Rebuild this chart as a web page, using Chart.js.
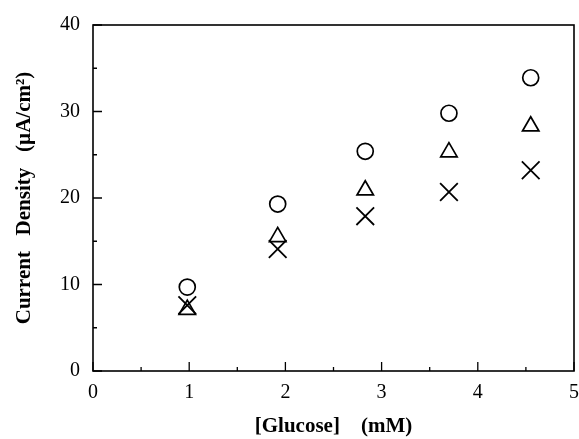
<!DOCTYPE html>
<html>
<head>
<meta charset="utf-8">
<script src="https://cdn.jsdelivr.net/npm/chart.js@4.4.1/dist/chart.umd.min.js"></script>
<style>
  html, body { margin: 0; padding: 0; background: #fff; }
  #clip { width: 579px; height: 439px; overflow: hidden; }
  #wrap { width: 589px; height: 439px; }
</style>
</head>
<body>
<div id="clip"><div id="wrap"><canvas id="myChart"></canvas></div></div>
<script>
// glucose concentration (mM)
const glucose = [0.98, 1.92, 2.83, 3.70, 4.55];
// current density (uA/cm2) for the three electrodes
const circleSeries = [9.7, 19.3, 25.4, 29.8, 33.9];
const triangleSeries = [7.1, 15.5, 20.9, 25.3, 28.3];
const crossSeries = [7.6, 14.1, 17.9, 20.7, 23.2];
const xTicks = [0, 1, 2, 3, 4, 5];
const yTicks = [0, 10, 20, 30, 40];

const serif = "'Liberation Serif', 'Times New Roman', serif";

function toPoints(ys) {
  return glucose.map((g, i) => ({ x: g, y: ys[i] }));
}

// box round the plot and inward tick marks
const frameTicks = {
  id: "frameTicks",
  afterDraw(chart) {
    const ctx = chart.ctx;
    const a = chart.chartArea;
    const xs = chart.scales.x;
    const ys = chart.scales.y;
    ctx.save();
    ctx.strokeStyle = "#000";
    ctx.lineWidth = 1.6;
    ctx.strokeRect(a.left, a.top, a.right - a.left, a.bottom - a.top);
    ctx.lineWidth = 1.3;
    ctx.beginPath();
    for (let v = 0; v <= 5; v += 0.5) {
      const px = xs.getPixelForValue(v);
      const len = v % 1 === 0 ? 9 : 4;
      ctx.moveTo(px, a.bottom);
      ctx.lineTo(px, a.bottom - len);
    }
    for (let v = 0; v <= 40; v += 5) {
      const py = ys.getPixelForValue(v);
      const len = v % 10 === 0 ? 9 : 4;
      ctx.moveTo(a.left, py);
      ctx.lineTo(a.left + len, py);
    }
    ctx.stroke();
    ctx.restore();
  },
};

const ctx = document.getElementById("myChart");
let chart = new Chart(ctx, {
  type: "scatter",
  data: {
    datasets: [
      {
        data: toPoints(circleSeries),
        pointStyle: "circle",
        pointRadius: 8,
        borderColor: "#000",
        backgroundColor: "rgba(0,0,0,0)",
        borderWidth: 1.7,
      },
      {
        data: toPoints(triangleSeries),
        pointStyle: "triangle",
        pointRadius: 9.5,
        borderColor: "#000",
        backgroundColor: "rgba(0,0,0,0)",
        borderWidth: 1.7,
      },
      {
        data: toPoints(crossSeries),
        pointStyle: "crossRot",
        pointRadius: 12.5,
        borderColor: "#000",
        backgroundColor: "rgba(0,0,0,0)",
        borderWidth: 1.8,
      },
    ],
  },
  options: {
    responsive: true,
    maintainAspectRatio: false,
    animation: false,
    layout: { padding: { left: 0, right: 4, top: 11, bottom: 0 } },
    plugins: {
      legend: { display: false },
      tooltip: { enabled: false },
    },
    scales: {
      x: {
        type: "linear",
        min: 0,
        max: 5,
        afterBuildTicks: (s) => { s.ticks = xTicks.map((v) => ({ value: v })); },
        afterFit: (s) => { s.height = 68; },
        grid: { display: false, drawTicks: false },
        border: { display: false },
        ticks: {
          padding: 10,
          color: "#000",
          font: { family: serif, size: 20 },
        },
        title: {
          display: true,
          text: "[Glucose]    (mM)",
          color: "#000",
          font: { family: serif, size: 21, weight: "bold" },
          padding: { top: 4, bottom: 0 },
        },
      },
      y: {
        type: "linear",
        min: 0,
        max: 40,
        afterBuildTicks: (s) => { s.ticks = yTicks.map((v) => ({ value: v })); },
        afterFit: (s) => { s.width = 93; },
        grid: { display: false, drawTicks: false },
        border: { display: false },
        ticks: {
          padding: 13,
          color: "#000",
          font: { family: serif, size: 20 },
        },
        title: {
          display: true,
          text: "Current   Density   (\u00b5A/cm\u00b2)",
          color: "#000",
          font: { family: serif, size: 21, weight: "bold" },
          padding: { top: 12, bottom: 0 },
        },
      },
    },
  },
  plugins: [frameTicks],
});
</script>
</body>
</html>
